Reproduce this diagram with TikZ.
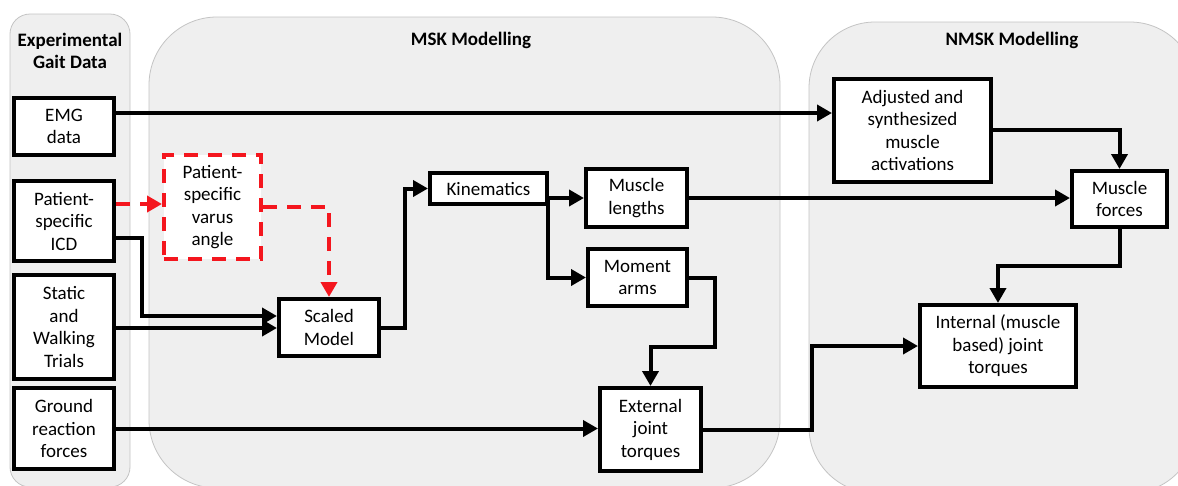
\documentclass[tikz,border=0pt]{standalone}
\usepackage{fontspec}
\setmainfont{Carlito}
\usetikzlibrary{arrows.meta}
\definecolor{panelfill}{HTML}{EFEFEF}
\definecolor{paneledge}{HTML}{C4C4C4}
\definecolor{dashred}{HTML}{F4161E}
\tikzset{
  panel/.style={fill=panelfill,draw=paneledge,line width=0.8pt},
  box/.style={draw=black,fill=white,line width=4pt,inner sep=0pt,align=center,
    font=\fontsize{19}{22.5}\selectfont},
  redbox/.style={draw=dashred,fill=white,line width=4pt,inner sep=0pt,align=center,
    dash pattern=on 14pt off 10pt,font=\fontsize{19}{22.5}\selectfont},
  title/.style={font=\bfseries\fontsize{19}{22.5}\selectfont,align=center,inner sep=0pt},
  conn/.style={line width=4pt,-{Triangle[length=15pt,width=16pt]}},
  redconn/.style={line width=4pt,draw=dashred,dash pattern=on 14pt off 10pt,
    -{Triangle[length=15pt,width=16pt,fill=dashred]}},
}
\begin{document}
\begin{tikzpicture}[x=1pt,y=-1pt]
\useasboundingbox (0,0) rectangle (1178,485);
\begin{scope}
\clip (0,0) rectangle (1178,485);
\fill[white] (0,0) rectangle (1178,485);
\draw[panel,rounded corners=20pt] (10,14) rectangle (130,487);
\draw[panel,rounded corners=68pt] (149,17) rectangle (780,488);
\draw[panel,rounded corners=66pt] (809,22) rectangle (1196,493);
\end{scope}
% titles
\node[title] (t1) at (70,51) {Experimental\\Gait Data};
\node[title] (t2) at (471,40) {MSK Modelling};
\node[title] (t3) at (1012,40) {NMSK Modelling};
% boxes
\node[box,minimum width=100pt,minimum height=57pt] (emg) at (64,126.5) {EMG\\data};
\node[box,minimum width=100pt,minimum height=80pt] (icd) at (64,221) {Patient-\\specific\\ICD};
\node[box,minimum width=100pt,minimum height=104pt] (static) at (64,327) {Static\\and\\Walking\\Trials};
\node[box,minimum width=100pt,minimum height=81pt] (grf) at (64,428.5) {Ground\\reaction\\forces};
\node[redbox,minimum width=97pt,minimum height=104pt] (varus) at (212.5,207) {Patient-\\specific\\varus\\angle};
\node[box,minimum width=100pt,minimum height=57pt] (scaled) at (329,327.5) {Scaled\\Model};
\node[box,minimum width=117pt,minimum height=31pt] (kin) at (488.5,188.5) {Kinematics};
\node[box,minimum width=101pt,minimum height=58pt] (mlen) at (636.5,198) {Muscle\\lengths};
\node[box,minimum width=99pt,minimum height=57pt] (marm) at (637.5,277.5) {Moment\\arms};
\node[box,minimum width=101pt,minimum height=83pt] (ext) at (650.5,429.5) {External\\joint\\torques};
\node[box,minimum width=157pt,minimum height=103pt] (adj) at (912.5,130.5) {Adjusted and\\synthesized\\muscle\\activations};
\node[box,minimum width=95pt,minimum height=56pt] (mfor) at (1119.5,199) {Muscle\\forces};
\node[box,minimum width=156pt,minimum height=82pt] (intl) at (998,346) {Internal (muscle\\based) joint\\torques};
% connectors
\coordinate (c1) at (142,238);
\coordinate (c2) at (142,316);
\coordinate (c3) at (405,327.5);
\coordinate (c4) at (548,198);
\coordinate (c5) at (715,277.5);
\coordinate (c6) at (715,347);
\coordinate (c7) at (812,429.5);
\coordinate (c8) at (1119.5,266);
\draw[conn] (emg.east |- 0,113) -- (adj.west |- 0,113);
\draw[redconn] (icd.east |- 0,204) -- (varus.west |- 0,204);
\draw[conn] (icd.east |- c1) -- (c1) -- (c2) -- (scaled.west |- c2);
\draw[conn] (static.east |- 0,328) -- (scaled.west |- 0,328);
\draw[redconn] (varus.east |- 0,207) -| (scaled.north);
\draw[conn] (scaled.east) -- (c3) |- (kin.west);
\draw[conn] (kin.east |- c4) -- (mlen.west);
\draw[conn] (c4) |- (marm.west);
\draw[conn] (marm.east) -- (c5) -- (c6) -| (ext.north);
\draw[conn] (grf.east) -- (grf.east -| ext.west);
\draw[conn] (ext.east) -- (c7) |- (intl.west);
\draw[conn] (mlen.east) -- (mlen.east -| mfor.west);
\draw[conn] (adj.east |- 0,130) -| (mfor.north);
\draw[conn] (mfor.south) -- (c8) -| (intl.north);
\end{tikzpicture}
\end{document}
